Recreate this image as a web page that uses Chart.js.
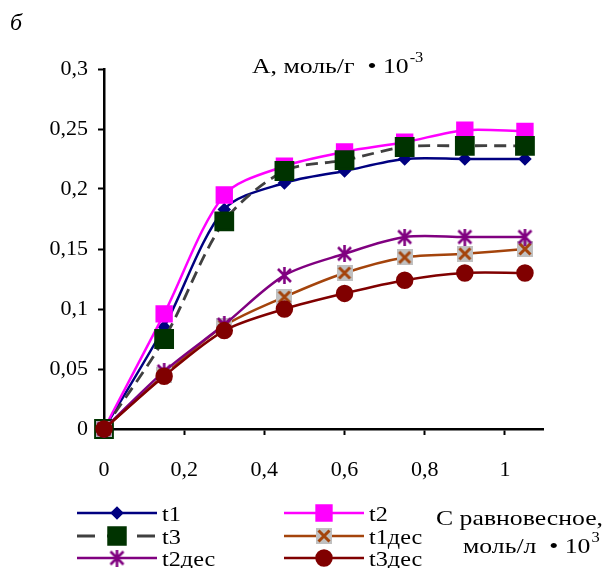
<!DOCTYPE html>
<html>
<head>
<meta charset="utf-8">
<script src="https://cdn.jsdelivr.net/npm/chart.js@4/dist/chart.umd.min.js"></script>
<style>
  body { margin: 0; background: #fff; }
  canvas { display: block; }
</style>
</head>
<body>
<canvas id="myChart" width="608" height="568"></canvas>
<script>
// C равновесное, моль/л * 10^3
var cEq = [0, 0.15, 0.3, 0.45, 0.6, 0.75, 0.9, 1.05];
// A, моль/г * 10^-3
var t1 = [0, 0.085, 0.183, 0.205, 0.215, 0.225, 0.225, 0.225];
var t2 = [0, 0.096, 0.195, 0.219, 0.231, 0.239, 0.249, 0.248];
var t3 = [0, 0.075, 0.173, 0.215, 0.224, 0.235, 0.236, 0.236];
var t1des = [0, 0.045, 0.086, 0.110, 0.130, 0.143, 0.146, 0.150];
var t2des = [0, 0.048, 0.087, 0.128, 0.146, 0.160, 0.160, 0.160];
var t3des = [0, 0.044, 0.082, 0.100, 0.113, 0.124, 0.130, 0.130];

var yTicks = [0, 0.05, 0.1, 0.15, 0.2, 0.25, 0.3];
var xTicks = [0, 0.2, 0.4, 0.6, 0.8, 1];

var serif = "'Liberation Serif', 'Times New Roman', serif";

function pts(ys) {
    return cEq.map(function (x, i) { return { x: x, y: ys[i] }; });
}
function fmt(v) {
    return String(+v.toFixed(2)).replace('.', ',');
}
function marker(size, draw) {
    var c = document.createElement('canvas');
    c.width = size; c.height = size;
    draw(c.getContext('2d'), size);
    return c;
}

var brown = '#a4440c';
var crossMark = marker(16, function (g, s) {
    g.fillStyle = '#c0c0c0';
    g.fillRect(0, 0, s, s);
    g.strokeStyle = brown;
    g.lineWidth = 3;
    g.beginPath();
    g.moveTo(2.5, 2.5); g.lineTo(s - 2.5, s - 2.5);
    g.moveTo(s - 2.5, 2.5); g.lineTo(2.5, s - 2.5);
    g.stroke();
});
var starMark = marker(17, function (g, s) {
    g.strokeStyle = '#800080';
    g.lineWidth = 2.6;
    g.beginPath();
    g.moveTo(2, 2); g.lineTo(s - 2, s - 2);
    g.moveTo(s - 2, 2); g.lineTo(2, s - 2);
    g.moveTo(s / 2, 0); g.lineTo(s / 2, s);
    g.stroke();
});

function scaledText(ctx, txt, x, y, sx) {
    ctx.save();
    ctx.translate(x, y);
    ctx.scale(sx, 1);
    ctx.fillText(txt, 0, 0);
    var w = ctx.measureText(txt).width * sx;
    ctx.restore();
    return w;
}

var textPlugin = {
    id: 'texts',
    afterDraw: function (chart) {
        var ctx = chart.ctx;
        ctx.save();
        ctx.fillStyle = '#000';
        ctx.textBaseline = 'alphabetic';
        ctx.textAlign = 'left';

        ctx.font = 'italic 24px ' + serif;
        ctx.fillText('б', 10, 30);

        // y axis title
        ctx.font = '22px ' + serif;
        var w = scaledText(ctx, 'А, моль/г  • 10', 252, 73, 1.17);
        ctx.font = '15px ' + serif;
        scaledText(ctx, '-3', 252 + w + 1, 62, 1.1);

        // x axis title
        ctx.font = '22px ' + serif;
        scaledText(ctx, 'С равновесное,', 436, 525, 1.17);
        w = scaledText(ctx, 'моль/л  • 10', 463, 553, 1.17);
        ctx.font = '15px ' + serif;
        scaledText(ctx, '3', 463 + w + 1, 542, 1.1);

        // legend
        var cols = [77, 284];
        var rows = [513, 536, 558];
        chart.data.datasets.forEach(function (ds, i) {
            var x0 = cols[i % 2], y = rows[Math.floor(i / 2)];
            ctx.save();
            ctx.strokeStyle = ds.borderColor;
            ctx.lineWidth = ds.borderWidth;
            ctx.setLineDash(ds.legendDash || []);
            ctx.beginPath();
            ctx.moveTo(x0, y); ctx.lineTo(x0 + 80, y);
            ctx.stroke();
            ctx.restore();
            var cx = x0 + 40;
            if (ds.pointStyle instanceof HTMLCanvasElement) {
                ctx.drawImage(ds.pointStyle, cx - ds.pointStyle.width / 2, y - ds.pointStyle.height / 2);
            } else {
                ctx.fillStyle = ds.pointBackgroundColor;
                ctx.strokeStyle = ds.pointBorderColor;
                Chart.helpers.drawPoint(ctx, { pointStyle: ds.pointStyle, radius: ds.pointRadius, borderWidth: 1, rotation: 0 }, cx, y);
            }
            ctx.fillStyle = '#000';
            ctx.font = '22px ' + serif;
            scaledText(ctx, ds.label, x0 + 85, y + 8, 1.1);
        });
        ctx.restore();
    }
};

var ctx = document.getElementById('myChart').getContext('2d');
var myChart = new Chart(ctx, {
    type: 'line',
    data: {
        datasets: [
            { label: 't1', data: pts(t1), borderColor: '#000080', borderWidth: 2.5,
              pointStyle: 'rectRot', pointRadius: 5, pointBackgroundColor: '#000080', pointBorderColor: '#000080', order: 6 },
            { label: 't2', data: pts(t2), borderColor: '#ff00ff', borderWidth: 2.5,
              pointStyle: 'rect', pointRadius: 10.5, pointBackgroundColor: '#ff00ff', pointBorderColor: '#ff00ff', order: 5 },
            { label: 't3', data: pts(t3), borderColor: '#404040', borderWidth: 2.8, borderDash: [12, 7], legendDash: [18, 12],
              pointStyle: 'rect', pointRadius: 12, pointBackgroundColor: '#003300', pointBorderColor: '#003300', order: 4 },
            { label: 't1дес', data: pts(t1des), borderColor: brown, borderWidth: 2.5,
              pointStyle: crossMark, order: 3 },
            { label: 't2дес', data: pts(t2des), borderColor: '#800080', borderWidth: 2.5,
              pointStyle: starMark, order: 2 },
            { label: 't3дес', data: pts(t3des), borderColor: '#800000', borderWidth: 2.5,
              pointStyle: 'circle', pointRadius: 7.5, pointBackgroundColor: '#800000', pointBorderColor: '#800000', order: 1 }
        ]
    },
    options: {
        responsive: false,
        animation: false,
        devicePixelRatio: 1,
        layout: { padding: { top: 69, right: 65, left: 0, bottom: 0 } },
        elements: {
            line: { tension: 0.3, fill: false },
            point: { borderWidth: 1, hoverRadius: 7 }
        },
        datasets: { line: { clip: false } },
        plugins: { legend: { display: false }, tooltip: { enabled: false } },
        scales: {
            x: {
                type: 'linear', min: 0, max: 1.095,
                afterBuildTicks: function (axis) {
                    axis.ticks = xTicks.map(function (v) { return { value: v }; });
                },
                afterFit: function (axis) { axis.height = 139; },
                grid: { display: true, drawOnChartArea: false, drawTicks: true, tickLength: 6, tickColor: '#000', tickWidth: 2 },
                border: { display: true, color: '#000', width: 2.5 },
                ticks: { color: '#000', padding: 22, maxRotation: 0, font: { family: serif, size: 22 }, callback: function (v) { return fmt(v); } }
            },
            y: {
                min: 0, max: 0.3,
                afterBuildTicks: function (axis) {
                    axis.ticks = yTicks.map(function (v) { return { value: v }; });
                },
                afterFit: function (axis) { axis.width = 104; },
                grid: { display: true, drawOnChartArea: false, drawTicks: true, tickLength: 6, tickColor: '#000', tickWidth: 2 },
                border: { display: true, color: '#000', width: 2.5 },
                ticks: { color: '#000', padding: 10, font: { family: serif, size: 22 }, callback: function (v) { return fmt(v); } }
            }
        }
    },
    plugins: [textPlugin]
});
</script>
</body>
</html>
